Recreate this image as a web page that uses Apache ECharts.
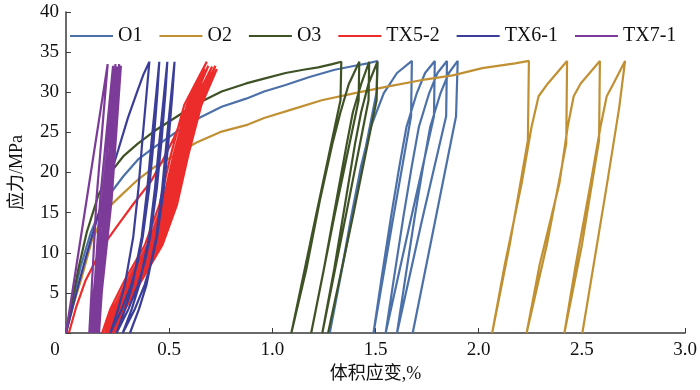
<!DOCTYPE html>
<html><head><meta charset="utf-8">
<script src="https://cdn.jsdelivr.net/npm/echarts@6/dist/echarts.min.js"></script>
<style>html,body{margin:0;padding:0;background:#fff}#c{width:700px;height:390px}</style>
</head><body><div id="c"></div>
<script>
// Series names (legend)
const seriesNames = ['O1', 'O2', 'O3', 'TX5-2', 'TX6-1', 'TX7-1'];
const seriesColors = ['#4c71a8', '#c09032', '#3e5226', '#ec2b2b', '#3b3e98', '#7c3b98'];

// O1: monotonic loading, then unload/reload cycles  [volumetric strain %, stress MPa]
const O1 = [
  [0,0],[0.03,3.8],[0.07,8.2],[0.12,12.5],[0.18,16.2],[0.277,19.5],[0.348,21.6],[0.43,23.2],[0.515,24.7],
  [0.63,26.6],[0.754,28.2],[0.873,29.2],[0.96,30.1],[1.064,30.9],[1.18,31.9],[1.302,32.8],[1.40,33.3],[1.461,33.6],[1.509,33.9],
  [1.505,30.0],[1.39,15],[1.278,0],
  [1.33,7],[1.382,14.5],[1.429,20.7],[1.477,25.7],[1.54,29.9],[1.604,32.4],[1.676,33.9],
  [1.672,27],[1.58,13.5],[1.49,0],
  [1.53,7],[1.575,14.5],[1.615,20.7],[1.65,25.7],[1.70,29.9],[1.74,32.4],[1.787,33.9],
  [1.783,27],[1.665,13.5],[1.549,0],
  [1.59,7],[1.635,14.5],[1.675,20.7],[1.71,25.7],[1.76,29.9],[1.80,32.4],[1.846,33.9],
  [1.842,27],[1.72,13.5],[1.604,0],
  [1.645,7],[1.69,14.5],[1.73,20.7],[1.765,25.7],[1.815,29.9],[1.855,32.4],[1.898,33.9],
  [1.89,27],[1.785,13.5],[1.680,0]
];

const O2 = [
  [0,0],[0.035,3.5],[0.077,7.0],[0.125,11.5],[0.173,14.2],[0.22,16.0],[0.277,17.4],[0.348,19.1],[0.43,20.7],
  [0.515,22.0],[0.63,23.7],[0.754,25.1],[0.873,25.9],[0.96,26.8],[1.10,27.9],[1.239,29.0],[1.40,29.9],[1.556,30.7],
  [1.72,31.5],[1.874,32.1],[2.017,33.0],[2.176,33.6],[2.243,33.9],
  [2.238,24],[2.15,11],[2.065,0],
  [2.073,0],[2.126,8.5],[2.208,18.65],[2.256,25.7],[2.29,29.5],[2.335,31.1],[2.428,33.9],
  [2.424,23.6],[2.33,11],[2.232,0],
  [2.24,0],[2.295,8.5],[2.391,18.65],[2.431,25.7],[2.46,29.5],[2.494,31.1],[2.587,33.9],
  [2.583,24],[2.50,11],[2.415,0],
  [2.423,0],[2.47,8.5],[2.542,18.65],[2.590,25.7],[2.62,29.5],[2.653,31.1],[2.709,33.9],
  [2.68,28],[2.622,18.65],[2.56,9],[2.502,0]
];

const O3 = [
  [0,0],[0.03,4],[0.06,8],[0.10,12.5],[0.157,17.2],[0.21,19.8],[0.277,22.0],[0.348,23.6],[0.43,25.2],
  [0.515,26.6],[0.63,28.5],[0.754,30.1],[0.873,31.1],[0.96,31.7],[1.064,32.4],[1.15,32.8],[1.222,33.1],[1.29,33.5],[1.334,33.8],
  [1.330,29.0],[1.21,14.5],[1.092,0],
  [1.10,0],[1.165,8],[1.23,16.5],[1.29,23.5],[1.33,27.5],[1.37,31.0],[1.421,33.8],
  [1.418,29],[1.30,14.5],[1.188,0],
  [1.195,0],[1.25,8],[1.31,16.5],[1.36,23.5],[1.39,27.5],[1.43,31],[1.469,33.8],
  [1.466,29],[1.355,14.5],[1.242,0],
  [1.25,0],[1.30,8],[1.355,16.5],[1.40,23.5],[1.43,27.5],[1.465,31],[1.509,33.8],
  [1.505,29],[1.39,14.5],[1.270,0]
];

const TX5_2 = [
  [0.014,0],[0.05,3.3],[0.094,6.5],[0.15,9.3],[0.20,11.6],[0.253,13.5],[0.33,16.2],[0.412,18.9],[0.47,21.6],
  [0.523,24.3],[0.565,26.9],[0.602,29.2],[0.645,31.8],[0.682,33.8],
  [0.573,28.4],[0.508,22.2],[0.453,16],[0.383,11],[0.285,6.6],[0.215,3],[0.175,0],
  [0.226,3],[0.307,6.6],[0.407,11],[0.477,16],[0.532,22.2],[0.595,28.4],[0.672,32.9],
  [0.586,28.4],[0.521,22.2],[0.466,16],[0.396,11],[0.298,6.6],[0.228,3],[0.188,0],
  [0.239,3],[0.320,6.6],[0.420,11],[0.490,16],[0.545,22.2],[0.608,28.4],[0.690,33.3],
  [0.596,28.4],[0.531,22.2],[0.476,16],[0.406,11],[0.308,6.6],[0.238,3],[0.198,0],
  [0.249,3],[0.330,6.6],[0.430,11],[0.500,16],[0.555,22.2],[0.618,28.4],[0.700,32.6],
  [0.605,28.4],[0.540,22.2],[0.485,16],[0.415,11],[0.317,6.6],[0.247,3],[0.207,0],
  [0.258,3],[0.339,6.6],[0.439,11],[0.509,16],[0.564,22.2],[0.627,28.4],[0.708,33.2],
  [0.614,28.4],[0.549,22.2],[0.494,16],[0.424,11],[0.326,6.6],[0.256,3],[0.216,0],
  [0.267,3],[0.348,6.6],[0.448,11],[0.518,16],[0.573,22.2],[0.636,28.4],[0.716,32.8],
  [0.624,28.4],[0.559,22.2],[0.504,16],[0.434,11],[0.336,6.6],[0.266,3],[0.226,0],
  [0.277,3],[0.358,6.6],[0.458,11],[0.528,16],[0.583,22.2],[0.646,28.4],[0.724,33.3],
  [0.634,28.4],[0.569,22.2],[0.514,16],[0.444,11],[0.346,6.6],[0.276,3],[0.236,0],
  [0.287,3],[0.368,6.6],[0.468,11],[0.538,16],[0.593,22.2],[0.656,28.4],[0.731,32.9],
  [0.643,28.4],[0.578,22.2],[0.523,16],[0.453,11],[0.355,6.6],[0.285,3],[0.245,0]
];

const TX6_1 = [
  [0,0],[0.03,3],[0.062,6.2],[0.095,9.3],[0.125,12],[0.19,17.6],[0.253,22.8],[0.30,26.8],[0.348,30.3],[0.375,32.2],[0.404,33.8],
  [0.391,30],[0.370,24],[0.351,18],[0.326,12],[0.285,6],[0.253,3],[0.215,0],
  [0.271,3],[0.316,6],[0.349,9],[0.372,12],[0.403,18],[0.425,24],[0.443,30],[0.452,33.8],
  [0.438,30],[0.415,24],[0.394,18],[0.367,12],[0.322,6],[0.287,3],[0.245,0],
  [0.303,3],[0.349,6],[0.383,9],[0.408,12],[0.440,18],[0.463,24],[0.482,30],[0.491,33.8],
  [0.476,30],[0.453,24],[0.431,18],[0.403,12],[0.355,6],[0.319,3],[0.275,0],
  [0.334,3],[0.381,6],[0.416,9],[0.441,12],[0.474,18],[0.497,24],[0.516,30],[0.526,33.8],
  [0.511,30],[0.488,24],[0.466,18],[0.438,12],[0.390,6],[0.354,3],[0.310,0]
];

const TX7_1 = [
  [0,0],[0.10,16.6],[0.202,33.5],
  [0.148,16.8],[0.113,0],[0.182,16.6],[0.228,33.3],
  [0.166,16.8],[0.124,0],[0.194,16.6],[0.240,33.5],
  [0.177,16.8],[0.134,0],[0.204,16.6],[0.250,33.2],
  [0.188,16.8],[0.145,0],[0.213,16.6],[0.258,33.5],
  [0.196,16.8],[0.152,0],[0.221,16.6],[0.266,33.3],
  [0.204,16.8],[0.160,0]
];

const seriesData = [O1, O2, O3, TX5_2, TX6_1, TX7_1];

const serif = "'Liberation Serif','Times New Roman','Noto Sans CJK SC',serif";
const chart = echarts.init(document.getElementById('c'), null, {renderer: 'canvas'});
chart.setOption({
  animation: false,
  backgroundColor: '#fff',
  grid: {left: 57, right: 14, top: 12, bottom: 57, containLabel: false},
  legend: {
    data: seriesNames, top: 21, left: 65, itemGap: 17, itemWidth: 43, itemHeight: 2, icon: 'rect',
    textStyle: {fontFamily: serif, fontSize: 20, color: '#111'}
  },
  xAxis: {
    type: 'value', min: 0, max: 3, interval: 0.5,
    name: '体积应变,%', nameLocation: 'middle', nameGap: 30,
    nameTextStyle: {fontFamily: serif, fontSize: 18, color: '#111'},
    axisLine: {show: true, lineStyle: {color: '#3a3a3a', width: 1.5}},
    axisTick: {show: true, inside: true, length: 5, lineStyle: {color: '#3a3a3a', width: 1}},
    splitLine: {show: false},
    axisLabel: {
      fontFamily: serif, fontSize: 19, color: '#111', margin: 8,
      formatter: v => v === 0 ? '{z|0}' : v.toFixed(1),
      rich: {z: {fontFamily: serif, fontSize: 19, color: '#111', padding: [0, 22, 0, 0]}}
    }
  },
  yAxis: {
    type: 'value', min: 0, max: 40, interval: 5,
    name: '应力/MPa', nameLocation: 'middle', nameGap: 40, nameRotate: 90,
    nameTextStyle: {fontFamily: serif, fontSize: 18, color: '#111'},
    axisLine: {show: true, lineStyle: {color: '#3a3a3a', width: 1.5}},
    axisTick: {show: true, inside: true, length: 5, lineStyle: {color: '#3a3a3a', width: 1}},
    splitLine: {show: false},
    axisLabel: {fontFamily: serif, fontSize: 19, color: '#111', margin: 7,
      formatter: v => v === 0 ? '' : String(v)}
  },
  series: seriesNames.map((n, i) => ({
    name: n, type: 'line', data: seriesData[i], symbol: 'none', showSymbol: false,
    color: seriesColors[i],
    lineStyle: {color: seriesColors[i], width: 2.2},
    itemStyle: {color: seriesColors[i]},
    smooth: false, clip: true
  }))
});
</script>
</body></html>
